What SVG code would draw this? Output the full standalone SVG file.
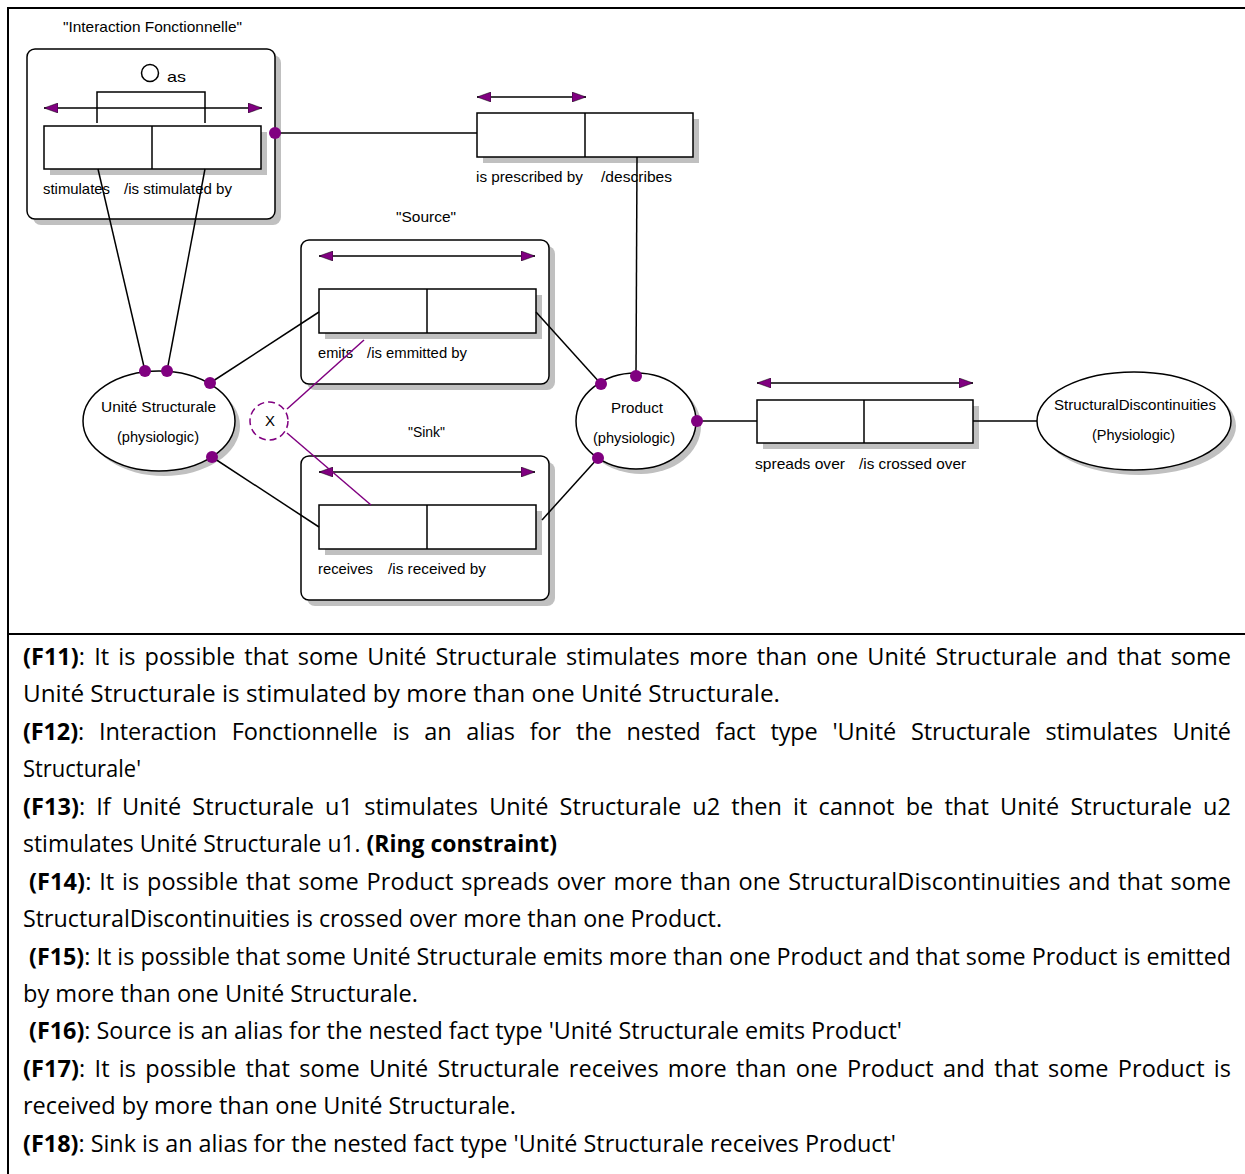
<svg xmlns="http://www.w3.org/2000/svg" width="1245" height="1174" viewBox="0 0 1245 1174">
<style>
  .lbl { font-family: "Liberation Sans", Arial, sans-serif; font-size: 15px; fill: #000; }
  .mid { text-anchor: middle; }
  .box { fill: #fff; stroke: #000; stroke-width: 1.5; }
  .shadow { fill: #c0c0c0; stroke: none; }
  .ln { stroke: #000; stroke-width: 1.5; fill: none; }
  .pl { stroke: #800080; stroke-width: 1.5; fill: none; }
  .dot { fill: #800080; }
  .arr { stroke: #000; stroke-width: 1.5; marker-start: url(#ah); marker-end: url(#ah); }
  .frame { stroke: #000; stroke-width: 2; }
  .t { font-family: "Open Sans", "Noto Sans", sans-serif; font-size: 23.5px; fill: #000; }
  .b { font-weight: bold; }
</style>
<defs>
  <marker id="ah" viewBox="0 0 14 10" refX="14" refY="5" markerWidth="14" markerHeight="10" markerUnits="userSpaceOnUse" orient="auto-start-reverse">
    <path d="M0,0 L14,5 L0,10 z" fill="#800080" stroke="#000" stroke-width="0.5"/>
  </marker>
</defs>
<rect width="1245" height="1174" fill="#fff"/>
<g id="frame">
  <line class="frame" x1="8" y1="8" x2="1245" y2="8"/>
  <line class="frame" x1="8" y1="7" x2="8" y2="1174"/>
  <line class="frame" x1="8" y1="634" x2="1245" y2="634"/>
</g>

<g id="interaction-fonctionnelle">
  <text class="lbl" x="63" y="32" textLength="179" lengthAdjust="spacingAndGlyphs">"Interaction Fonctionnelle"</text>
  <rect class="shadow" x="33" y="55" width="248" height="170" rx="8"/>
  <rect class="box" x="27" y="49" width="248" height="170" rx="8"/>
  <circle cx="150" cy="73" r="8.5" fill="none" stroke="#000" stroke-width="1.5"/>
  <text class="lbl" x="167" y="82" textLength="19" lengthAdjust="spacingAndGlyphs">as</text>
  <polyline class="ln" points="97,123 97,92 205,92 205,123"/>
  <line class="arr" x1="44" y1="108" x2="262" y2="108"/>
  <rect class="shadow" x="50" y="132" width="217" height="43"/>
  <rect class="box" x="44" y="126" width="217" height="43"/>
  <line class="ln" x1="152" y1="126" x2="152" y2="169"/>
  <text class="lbl" x="43" y="194" textLength="67" lengthAdjust="spacingAndGlyphs">stimulates</text>
  <text class="lbl" x="124" y="194" textLength="108" lengthAdjust="spacingAndGlyphs">/is stimulated  by</text>
</g>

<g id="prescribed">
  <line class="arr" x1="477" y1="97" x2="586" y2="97"/>
  <rect class="shadow" x="483" y="119" width="216" height="44"/>
  <rect class="box" x="477" y="113" width="216" height="44"/>
  <line class="ln" x1="585" y1="113" x2="585" y2="157"/>
  <text class="lbl" x="476" y="182" textLength="107" lengthAdjust="spacingAndGlyphs">is prescribed by</text>
  <text class="lbl" x="601" y="182" textLength="71" lengthAdjust="spacingAndGlyphs">/describes</text>
</g>

<g id="source">
  <text class="lbl" x="396" y="222" textLength="60" lengthAdjust="spacingAndGlyphs">"Source"</text>
  <rect class="shadow" x="307" y="246" width="248" height="144" rx="8"/>
  <rect class="box" x="301" y="240" width="248" height="144" rx="8"/>
  <line class="arr" x1="319" y1="256" x2="535" y2="256"/>
  <rect class="shadow" x="325" y="295" width="217" height="44"/>
  <rect class="box" x="319" y="289" width="217" height="44"/>
  <line class="ln" x1="427" y1="289" x2="427" y2="333"/>
  <text class="lbl" x="318" y="358" textLength="35" lengthAdjust="spacingAndGlyphs">emits</text>
  <text class="lbl" x="367" y="358" textLength="100" lengthAdjust="spacingAndGlyphs">/is emmitted by</text>
</g>

<g id="sink">
  <text class="lbl" x="408" y="437" textLength="37" lengthAdjust="spacingAndGlyphs">"Sink"</text>
  <rect class="shadow" x="307" y="462" width="248" height="144" rx="8"/>
  <rect class="box" x="301" y="456" width="248" height="144" rx="8"/>
  <line class="arr" x1="319" y1="472" x2="535" y2="472"/>
  <rect class="shadow" x="325" y="511" width="217" height="44"/>
  <rect class="box" x="319" y="505" width="217" height="44"/>
  <line class="ln" x1="427" y1="505" x2="427" y2="549"/>
  <text class="lbl" x="318" y="574" textLength="55" lengthAdjust="spacingAndGlyphs">receives</text>
  <text class="lbl" x="388" y="574" textLength="98" lengthAdjust="spacingAndGlyphs">/is received  by</text>
</g>

<g id="spreads-over">
  <line class="arr" x1="757" y1="383" x2="973" y2="383"/>
  <rect class="shadow" x="763" y="406" width="216" height="43"/>
  <rect class="box" x="757" y="400" width="216" height="43"/>
  <line class="ln" x1="864" y1="400" x2="864" y2="443"/>
  <text class="lbl" x="755" y="469" textLength="90" lengthAdjust="spacingAndGlyphs">spreads over</text>
  <text class="lbl" x="859" y="469" textLength="107" lengthAdjust="spacingAndGlyphs">/is crossed over</text>
</g>

<g id="unite-structurale">
  <ellipse class="shadow" cx="164" cy="426" rx="76" ry="50"/>
  <ellipse class="box" cx="159" cy="421" rx="76" ry="50"/>
  <text class="lbl" x="101" y="412" textLength="115" lengthAdjust="spacingAndGlyphs">Unité Structurale</text>
  <text class="lbl" x="117" y="442" textLength="82" lengthAdjust="spacingAndGlyphs">(physiologic)</text>
</g>

<g id="product">
  <ellipse class="shadow" cx="641" cy="426" rx="60" ry="48"/>
  <ellipse class="box" cx="636" cy="421" rx="60" ry="48"/>
  <text class="lbl" x="611" y="413" textLength="52" lengthAdjust="spacingAndGlyphs">Product</text>
  <text class="lbl" x="593" y="443" textLength="82" lengthAdjust="spacingAndGlyphs">(physiologic)</text>
</g>

<g id="structural-discontinuities">
  <ellipse class="shadow" cx="1139" cy="426" rx="97" ry="49"/>
  <ellipse class="box" cx="1134" cy="421" rx="97" ry="49"/>
  <text class="lbl" x="1054" y="410" textLength="162" lengthAdjust="spacingAndGlyphs">StructuralDiscontinuities</text>
  <text class="lbl" x="1092" y="440" textLength="83" lengthAdjust="spacingAndGlyphs">(Physiologic)</text>
</g>

<g id="exclusion">
  <circle cx="269" cy="421" r="19" fill="#fff" stroke="#800080" stroke-width="1.5" stroke-dasharray="7,4"/>
  <text class="lbl mid" x="270" y="426">X</text>
</g>

<g id="connectors">
  <line class="ln" x1="275" y1="133" x2="477" y2="133"/>
  <line class="ln" x1="637" y1="157" x2="636" y2="376"/>
  <line class="ln" x1="98" y1="169" x2="145" y2="371"/>
  <line class="ln" x1="205" y1="169" x2="167" y2="371"/>
  <line class="ln" x1="210" y1="383" x2="319" y2="312"/>
  <line class="ln" x1="212" y1="457" x2="319" y2="527"/>
  <line class="ln" x1="536" y1="312" x2="601" y2="384"/>
  <line class="ln" x1="542" y1="520" x2="598" y2="458"/>
  <line class="ln" x1="697" y1="421" x2="757" y2="421"/>
  <line class="ln" x1="973" y1="421" x2="1037" y2="421"/>
  <line class="pl" x1="287" y1="409" x2="364" y2="340"/>
  <line class="pl" x1="287" y1="433" x2="371" y2="505"/>
  <circle class="dot" cx="275" cy="133" r="6"/>
  <circle class="dot" cx="145" cy="371" r="6"/>
  <circle class="dot" cx="167" cy="371" r="6"/>
  <circle class="dot" cx="210" cy="383" r="6"/>
  <circle class="dot" cx="212" cy="457" r="6"/>
  <circle class="dot" cx="636" cy="376" r="6"/>
  <circle class="dot" cx="601" cy="384" r="6"/>
  <circle class="dot" cx="697" cy="421" r="6"/>
  <circle class="dot" cx="598" cy="458" r="6"/>
</g>

<g id="facts">
  <text class="t" x="23" y="665" word-spacing="3" textLength="1208" lengthAdjust="spacing"><tspan class="b">(F11)</tspan>: It is possible that some Unité Structurale stimulates more than one Unité Structurale and that some</text>
  <text class="t" x="23" y="702" textLength="757" lengthAdjust="spacingAndGlyphs">Unité Structurale is stimulated by more than one Unité Structurale.</text>
  <text class="t" x="23" y="740" word-spacing="9" textLength="1208" lengthAdjust="spacing"><tspan class="b">(F12)</tspan>: Interaction Fonctionnelle is an alias for the nested fact type 'Unité Structurale stimulates Unité</text>
  <text class="t" x="23" y="777" textLength="118" lengthAdjust="spacingAndGlyphs">Structurale'</text>
  <text class="t" x="23" y="815" word-spacing="5" textLength="1208" lengthAdjust="spacing"><tspan class="b">(F13)</tspan>: If Unité Structurale u1 stimulates Unité Structurale u2 then it cannot be that Unité Structurale u2</text>
  <text class="t" x="23" y="852" textLength="534" lengthAdjust="spacingAndGlyphs">stimulates Unité Structurale u1. <tspan class="b">(Ring constraint)</tspan></text>
  <text class="t" x="29" y="890" word-spacing="1.5" textLength="1202" lengthAdjust="spacing"><tspan class="b">(F14)</tspan>: It is possible that some Product spreads over more than one StructuralDiscontinuities and that some</text>
  <text class="t" x="23" y="927" textLength="699" lengthAdjust="spacingAndGlyphs">StructuralDiscontinuities is crossed over more than one Product.</text>
  <text class="t" x="29" y="965" textLength="1202" lengthAdjust="spacingAndGlyphs"><tspan class="b">(F15)</tspan>: It is possible that some Unité Structurale emits more than one Product and that some Product is emitted</text>
  <text class="t" x="23" y="1002" textLength="395" lengthAdjust="spacingAndGlyphs">by more than one Unité Structurale.</text>
  <text class="t" x="29" y="1039" textLength="873" lengthAdjust="spacingAndGlyphs"><tspan class="b">(F16)</tspan>: Source is an alias for the nested fact type 'Unité Structurale emits Product'</text>
  <text class="t" x="23" y="1077" word-spacing="3" textLength="1208" lengthAdjust="spacing"><tspan class="b">(F17)</tspan>: It is possible that some Unité Structurale receives more than one Product and that some Product is</text>
  <text class="t" x="23" y="1114" textLength="493" lengthAdjust="spacingAndGlyphs">received by more than one Unité Structurale.</text>
  <text class="t" x="23" y="1152" textLength="873" lengthAdjust="spacingAndGlyphs"><tspan class="b">(F18)</tspan>: Sink is an alias for the nested fact type 'Unité Structurale receives Product'</text>
</g>
</svg>
